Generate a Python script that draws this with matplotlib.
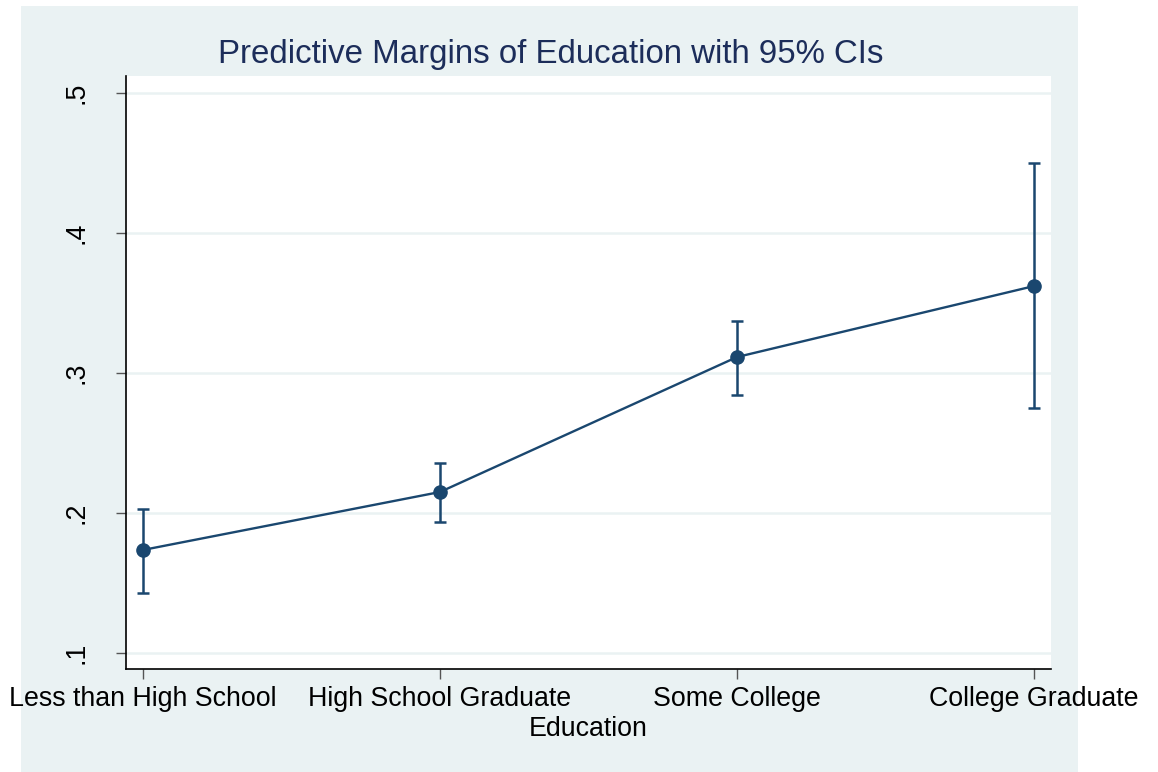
import matplotlib.pyplot as plt
from matplotlib.patches import Rectangle

plt.rcParams['font.family'] = ['Liberation Sans', 'DejaVu Sans']

# Предсказанные вероятности по уровню образования и 95% доверительные интервалы
categories = ['Less than High School', 'High School Graduate', 'Some College', 'College Graduate']
margins = [0.1736, 0.2150, 0.3114, 0.3621]
ci_low = [0.1429, 0.1936, 0.2843, 0.2750]
ci_high = [0.2029, 0.2357, 0.3371, 0.4500]
y_ticks = [0.1, 0.2, 0.3, 0.4, 0.5]
y_labels = ['.1', '.2', '.3', '.4', '.5']

line_color = '#1a476f'
bg_color = '#eaf2f3'

W, H = 1158, 772
fig = plt.figure(figsize=(W / 100, H / 100), dpi=100, facecolor='white')

# Фон области графика в стиле Stata
fig.patches.append(Rectangle((21 / W, 0), (1078 - 21) / W, (772 - 6) / H,
                             transform=fig.transFigure, facecolor=bg_color,
                             edgecolor='none', zorder=-10))

ax = fig.add_axes([126 / W, (H - 669) / H, (1051 - 126) / W, (669 - 76) / H])
ax.set_zorder(5)
ax.set_facecolor('white')

x = list(range(1, len(categories) + 1))
err_low = [m - lo for m, lo in zip(margins, ci_low)]
err_high = [hi - m for m, hi in zip(margins, ci_high)]

ax.errorbar(x, margins, yerr=[err_low, err_high], color=line_color, fmt='o-',
            markersize=9.5, linewidth=1.7, elinewidth=1.8, capsize=4.5,
            capthick=1.8, zorder=3)

ax.set_xlim(1 - 17 / 297, 4 + 17 / 297)
ax.set_ylim(0.1 - 16 / 1400, 0.5 + 17 / 1400)

ax.set_yticks(y_ticks)
ax.set_yticklabels(y_labels, rotation=90, va='center')
ax.set_xticks(x)
ax.set_xticklabels(categories)
ax.tick_params(axis='y', length=7, width=1, color='#555555', labelsize=19.3, pad=19)
ax.tick_params(axis='x', length=7, width=1, color='#555555', labelsize=19.3, pad=5)

ax.grid(axis='y', color=bg_color, linewidth=1.8, zorder=1)
ax.set_axisbelow(True)

for side in ['top', 'right']:
    ax.spines[side].set_visible(False)
for side in ['left', 'bottom']:
    ax.spines[side].set_color('black')
    ax.spines[side].set_linewidth(1.2)

ax.set_xlabel('Education', fontsize=19.3, labelpad=3.4)
fig.text(551 / W, 1 - 55 / H, 'Predictive Margins of Education with 95% CIs',
         ha='center', va='center', fontsize=23.8, color='#1c2d5a')

fig.savefig('out.png', dpi=100, facecolor='white')
